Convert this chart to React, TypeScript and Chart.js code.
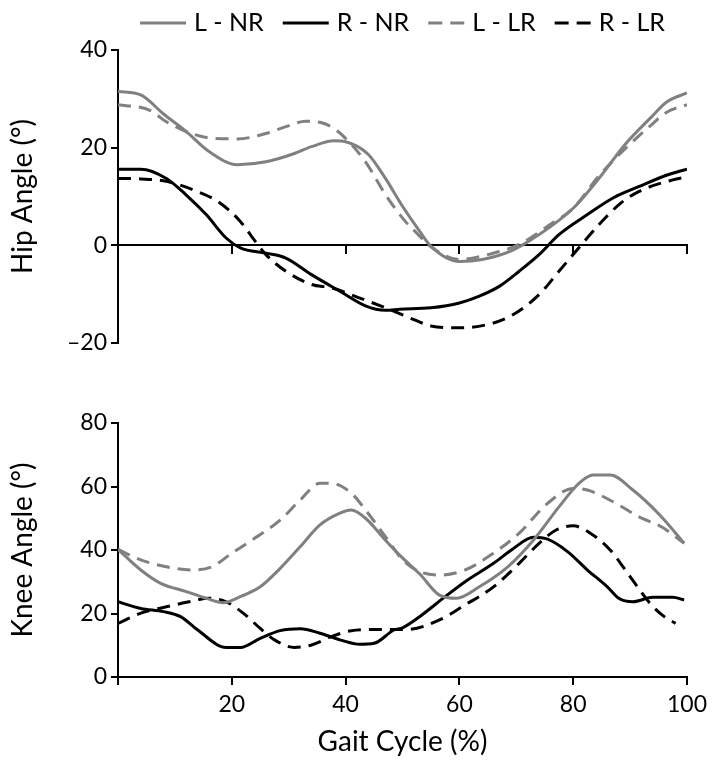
import React, { useEffect, useRef } from 'react';
import { Chart, registerables } from 'chart.js';

Chart.register(...registerables);

const FONT = 'Lato';
const GRAY = '#808080';
const BLACK = '#000000';
const DASH = [13, 8];

const seriesLabels = ['L - NR', 'R - NR', 'L - LR', 'R - LR'];
const xTicks = [0, 20, 40, 60, 80, 100];
const hipTicks = [-20, 0, 20, 40];
const kneeTicks = [0, 20, 40, 60, 80];

// Hip angle
const hipLNR_x = [0, 4, 8, 12, 16, 21, 26, 31, 34, 38, 40, 44, 47, 50, 53, 55, 60, 64, 69, 74, 80, 85, 89, 93.5, 96.5, 100];
const hipLNR_y = [31.5, 30.8, 26.9, 23.3, 19.2, 16.5, 17.1, 18.8, 20.2, 21.4, 21.2, 18.6, 13.7, 8, 2.9, -0.2, -3.3, -2.9, -1.2, 2.2, 7.6, 14.4, 20.5, 26, 29.4, 31.2];
const hipRNR_x = [0, 4, 8.5, 12, 15.5, 19, 21.5, 26, 29.5, 34, 39, 43.5, 47, 49.5, 55, 60, 63.5, 67, 70.5, 74, 77.5, 82.5, 87, 91.5, 96.5, 100];
const hipRNR_y = [15.6, 15.6, 13.7, 10.3, 6.3, 1.5, -0.5, -1.6, -2.6, -6, -9.4, -12.4, -13.3, -13.1, -12.8, -11.8, -10.4, -8.4, -5.3, -1.9, 2.2, 6.3, 9.7, 12, 14.4, 15.6];
const hipLLR_x = [0, 5.5, 8.5, 12, 16, 21, 26, 29.5, 33, 35.5, 38, 40, 43.5, 47, 50.5, 52.5, 55, 60, 65, 70.5, 76, 80, 84.5, 89.5, 93, 96.5, 100];
const hipLLR_y = [28.8, 27.7, 25.3, 23.3, 22, 21.8, 22.9, 24.3, 25.4, 25.2, 23.9, 21.9, 17.1, 10.4, 4.9, 2.5, -0.3, -2.9, -1.9, 0.2, 4.3, 7.6, 14.2, 20.2, 23.9, 27.3, 28.8];
const hipRLR_x = [0, 4, 8.5, 14, 17.5, 21.5, 23.5, 26, 29.5, 34, 37.5, 42.5, 47, 52, 55, 60, 65, 69, 74, 77.5, 81, 84.5, 88, 91.5, 97.5, 100];
const hipRLR_y = [13.7, 13.6, 13.1, 11, 9, 4.9, 1.8, -1.9, -5.3, -8, -8.7, -10.8, -12.8, -15.2, -16.5, -16.9, -16.2, -14.5, -10.1, -5.3, -0.5, 4.2, 8.3, 11, 13.4, 14];

// Knee angle
const kneeLNR_x = [0, 4, 7.5, 12, 15.5, 18.5, 21.5, 25, 28.5, 32, 35.5, 39, 41, 43.5, 47, 50, 53, 56.5, 59.5, 63.5, 68.5, 73, 77.5, 81, 83.5, 86.5, 90.5, 95.5, 99.5];
const kneeLNR_y = [40.2, 33.7, 29.5, 26.9, 24.8, 23.4, 25.3, 28.4, 34.2, 41, 47.9, 51.6, 52.6, 50, 43.1, 37.5, 32.5, 25.8, 24.8, 28.4, 34.7, 43.1, 53.6, 61, 63.6, 63.6, 58.9, 50.5, 42.1];
const kneeRNR_x = [0, 4, 8, 11, 14, 19, 21.5, 25, 28.5, 32, 35.5, 39, 42.5, 45, 48.5, 50, 53, 57.5, 61, 66, 69.5, 73, 75.5, 79, 82.5, 86, 88, 90.5, 94, 97.5, 99.5];
const kneeRNR_y = [23.7, 21.6, 20.6, 19, 14.8, 9.3, 9.3, 12.2, 14.6, 15.2, 13.8, 11.7, 10.3, 10.6, 14.8, 15.5, 19, 25.3, 30, 35.8, 40.5, 44, 43.4, 39.5, 33.7, 28.4, 24.8, 23.7, 25.1, 25.1, 24.3];
const kneeLLR_x = [0, 4, 8.5, 13, 16.5, 20, 23.5, 28.5, 32, 35.5, 37.5, 41, 43.5, 47, 50, 53, 56.5, 61, 66, 70.5, 75.5, 80, 82.5, 87, 91.5, 95.5, 99.5];
const kneeLLR_y = [40.2, 36.9, 34.7, 33.7, 34.7, 39, 43.1, 49.4, 55.7, 61, 61, 57.9, 52.6, 44.2, 37, 33.2, 32.1, 33.7, 39, 45.3, 54.7, 59.4, 58.9, 55.2, 50.5, 47.3, 42.1];
const kneeRLR_x = [0, 4, 8.5, 12.5, 16, 19, 22, 25, 27.5, 31, 34, 37.5, 41, 46, 51, 56.5, 61, 66, 70.5, 74, 77, 80, 83, 86.5, 90, 93.5, 96, 98];
const kneeRLR_y = [16.9, 20.1, 22.1, 23.7, 24.8, 23.7, 20.1, 15.3, 11.7, 9.3, 10.1, 12.7, 14.6, 15, 15, 18, 22.7, 28.4, 35.8, 42.1, 46.3, 47.6, 45.3, 40, 31.6, 23.2, 19, 16.9];

const styles = [
  { color: GRAY, dash: [] as number[] },
  { color: BLACK, dash: [] as number[] },
  { color: GRAY, dash: DASH },
  { color: BLACK, dash: DASH },
];

const toPts = (xs: number[], ys: number[]) => xs.map((x, i) => ({ x, y: ys[i] }));

function makeDatasets(sets: [number[], number[]][]) {
  return sets.map(([xs, ys], i) => ({
    label: seriesLabels[i],
    data: toPts(xs, ys),
    borderColor: styles[i].color,
    backgroundColor: styles[i].color,
    borderDash: styles[i].dash,
    borderWidth: 3,
    pointRadius: 0,
    tension: 0.4,
    cubicInterpolationMode: 'monotone' as const,
    fill: false,
  }));
}

const legendPlugin = {
  id: 'customLegend',
  afterDraw(chart: any) {
    const o = chart.options.plugins.customLegend;
    if (!o || !o.display) return;
    const ctx = chart.ctx as CanvasRenderingContext2D;
    ctx.save();
    ctx.font = `${o.fontSize}px ${FONT}`;
    const items = chart.data.datasets.map((ds: any) => ({
      label: ds.label,
      color: ds.borderColor,
      dash: ds.borderDash || [],
      lineW: ds.borderDash && ds.borderDash.length ? 36 : 46,
      w: ctx.measureText(ds.label).width,
    }));
    const gapText = 8;
    const gapItem = 19;
    const total =
      items.reduce((s: number, it: any) => s + it.lineW + gapText + it.w, 0) + gapItem * (items.length - 1);
    const cx = (chart.chartArea.left + chart.chartArea.right) / 2;
    let x = cx - total / 2;
    const y = o.y;
    for (const it of items) {
      ctx.beginPath();
      ctx.setLineDash(it.dash.length ? [14, 8] : []);
      ctx.strokeStyle = it.color;
      ctx.lineWidth = 3;
      ctx.moveTo(x, y);
      ctx.lineTo(x + it.lineW, y);
      ctx.stroke();
      ctx.setLineDash([]);
      x += it.lineW + gapText;
      ctx.fillStyle = '#000';
      ctx.textBaseline = 'middle';
      ctx.textAlign = 'left';
      ctx.fillText(it.label, x, y);
      x += it.w + gapItem;
    }
    ctx.restore();
  },
};

const tickFont = { family: FONT, size: 23 };
const titleFont = { family: FONT, size: 28 };

function yAxis(min: number, max: number, title: string, ticks: number[]) {
  return {
    type: 'linear' as const,
    position: 'left' as const,
    min,
    max,
    afterBuildTicks: (s: any) => {
      s.ticks = ticks.map((v) => ({ value: v }));
    },
    afterFit: (s: any) => {
      s.width = 118;
    },
    ticks: {
      font: tickFont,
      color: '#000',
      padding: 4,
      callback: (v: any) => (Number(v) < 0 ? '\u2013' + Math.abs(Number(v)) : String(v)),
    },
    grid: { display: true, drawOnChartArea: false, drawTicks: true, tickLength: 7, color: '#000', lineWidth: 2 },
    border: { display: true, color: '#000', width: 2 },
    title: { display: true, text: title, font: titleFont, color: '#000', padding: { top: 6, bottom: 0 } },
  };
}

export default function App() {
  const topRef = useRef<HTMLCanvasElement>(null);
  const botRef = useRef<HTMLCanvasElement>(null);

  useEffect(() => {
    const top = new Chart(topRef.current!, {
      type: 'line',
      data: {
        datasets: makeDatasets([
          [hipLNR_x, hipLNR_y],
          [hipRNR_x, hipRNR_y],
          [hipLLR_x, hipLLR_y],
          [hipRLR_x, hipRLR_y],
        ]),
      },
      options: {
        responsive: false,
        animation: false,
        devicePixelRatio: 1,
        layout: { padding: { top: 50, right: 27, bottom: 27, left: 0 } },
        plugins: {
          legend: { display: false },
          tooltip: { enabled: false },
          customLegend: { display: true, fontSize: 25, y: 23 },
        } as any,
        scales: {
          x: {
            type: 'linear',
            position: { y: 0 } as any,
            min: 0,
            max: 100,
            afterBuildTicks: (s: any) => {
              s.ticks = xTicks.map((v) => ({ value: v }));
            },
            ticks: { display: false },
            grid: { display: true, drawOnChartArea: false, drawTicks: true, tickLength: 8, color: '#000', lineWidth: 2 },
            border: { display: true, color: '#000', width: 2 },
          },
          y: yAxis(-20, 40, 'Hip Angle (°)', hipTicks),
        },
      },
      plugins: [legendPlugin],
    });

    const bot = new Chart(botRef.current!, {
      type: 'line',
      data: {
        datasets: makeDatasets([
          [kneeLNR_x, kneeLNR_y],
          [kneeRNR_x, kneeRNR_y],
          [kneeLLR_x, kneeLLR_y],
          [kneeRLR_x, kneeRLR_y],
        ]),
      },
      options: {
        responsive: false,
        animation: false,
        devicePixelRatio: 1,
        layout: { padding: { top: 53, right: 27, bottom: 0, left: 0 } },
        plugins: {
          legend: { display: false },
          tooltip: { enabled: false },
        },
        scales: {
          x: {
            type: 'linear',
            position: 'bottom',
            min: 0,
            max: 100,
            afterBuildTicks: (s: any) => {
              s.ticks = xTicks.map((v) => ({ value: v }));
            },
            afterFit: (s: any) => {
              s.height = 91;
            },
            ticks: {
              font: tickFont,
              color: '#000',
              padding: 6,
              maxRotation: 0,
              callback: (v: any) => (v === 0 ? '' : String(v)),
            },
            grid: { display: true, drawOnChartArea: false, drawTicks: true, tickLength: 8, color: '#000', lineWidth: 2 },
            border: { display: true, color: '#000', width: 2 },
            title: { display: true, text: 'Gait Cycle (%)', font: titleFont, color: '#000', padding: { top: 0, bottom: 9 } },
          },
          y: yAxis(0, 80, 'Knee Angle (°)', kneeTicks),
        },
      },
    });

    return () => {
      top.destroy();
      bot.destroy();
    };
  }, []);

  return (
    <div style={{ position: 'absolute', left: 0, top: 0, width: 714, height: 768, background: '#fff' }}>
      <canvas ref={topRef} width={714} height={370} style={{ position: 'absolute', left: 0, top: 0 }} />
      <canvas ref={botRef} width={714} height={398} style={{ position: 'absolute', left: 0, top: 370 }} />
    </div>
  );
}
